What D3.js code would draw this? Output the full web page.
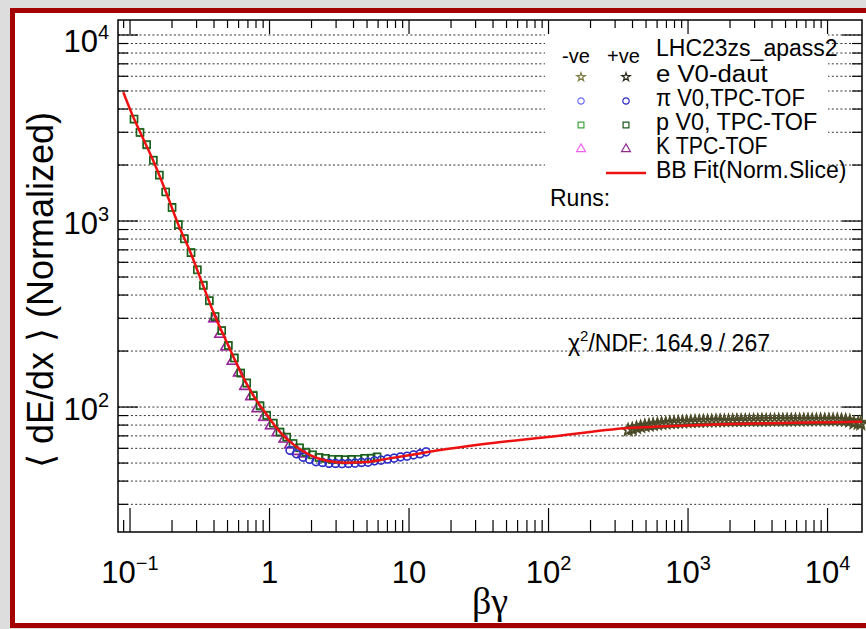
<!DOCTYPE html>
<html>
<head>
<meta charset="utf-8">
<script src="https://cdn.jsdelivr.net/npm/d3@7"></script>
<style>
  html, body { margin: 0; padding: 0; background: #dddddd; }
  svg { display: block; font-family: "Liberation Sans", Arial, sans-serif; }
</style>
</head>
<body>
<svg id="chart"></svg>
<script>
// ---- data ----
// BB fit curve (betagamma, normalized dE/dx)
const fitBG = [0.0895, 0.107, 0.118, 0.146, 0.181, 0.221, 0.274, 0.333, 0.406, 0.505, 0.625, 0.762, 0.959, 1.19, 1.47, 1.95, 2.62, 3.47, 4.84, 6.73, 10.2, 16.7, 32.3, 99, 371, 1219, 17660];
const fitVal = [4925, 3533, 3010, 2128, 1432, 964, 665, 453, 309, 215, 152, 116, 90.6, 73.4, 63.2, 55.2, 51.3, 50.2, 50.6, 52.5, 55.2, 58.7, 62.9, 69.0, 77.1, 80.0, 83.4];

// protons (squares)
const pBG = [0.1068, 0.1179, 0.1317, 0.1469, 0.1622, 0.1803, 0.2001, 0.2219, 0.2451, 0.2737, 0.3036, 0.3353, 0.3702, 0.4067, 0.4544, 0.5067, 0.5594, 0.6217, 0.6866, 0.7653, 0.8549, 0.9548, 1.065, 1.189, 1.328, 1.474, 1.641, 1.827, 2.033, 2.263, 2.520, 2.805, 3.123, 3.476, 3.870, 4.309, 4.797, 5.340, 5.896];
const pNeg = [3523, 2999, 2563, 2128, 1761, 1437, 1179, 960, 800, 679, 545, 453, 372, 308, 257, 215, 183, 153, 134, 116, 101, 90.6, 81.7, 73.7, 68.7, 64.0, 60.2, 57.3, 55.2, 53.8, 52.9, 52.5, 52.2, 52.2, 52.2, 52.5, 52.9, 53.2, 53.8];
const pPos = [3540, 2990, 2580, 2120, 1770, 1430, 1185, 955, 805, 675, 548, 450, 374, 306, 258, 214, 184, 152, 135, 115, 102, 90.0, 82.0, 73.2, 69.0, 63.6, 60.5, 57.0, 55.5, 53.5, 53.1, 52.3, 52.4, 52.0, 52.4, 52.3, 53.1, 53.0, 54.0];

// pions (circles)
const piBG = [1.403, 1.562, 1.738, 1.935, 2.154, 2.399, 2.670, 2.972, 3.309, 3.684, 4.101, 4.565, 5.082, 5.658, 6.298, 7.012, 7.806, 8.689, 9.675, 10.77, 11.99, 13.24];
const piNeg = [58.7, 55.9, 53.9, 52.2, 51.0, 50.3, 50.0, 49.7, 49.7, 49.7, 50.0, 50.3, 50.6, 51.3, 51.9, 52.5, 53.2, 53.9, 54.5, 55.2, 56.2, 57.3];
const piPos = [58.4, 56.1, 53.7, 52.4, 50.8, 50.4, 49.8, 49.8, 49.6, 49.8, 49.9, 50.4, 50.5, 51.4, 51.8, 52.6, 53.1, 54.0, 54.4, 55.4, 56.0, 57.5];

// kaons (triangles)
const kBG = [0.4002, 0.4419, 0.4878, 0.5413, 0.6016, 0.6674, 0.7369, 0.8178, 0.9134, 1.020, 1.137, 1.277, 1.403, 1.574, 1.738];
const kNeg = [297, 247, 210, 177, 152, 130, 113.6, 98.4, 88.0, 79.7, 72.8, 67.6, 62.5, 58.0, 55.9];
const kPos = [299, 246, 211, 176, 153, 129, 114.0, 98.0, 88.3, 79.4, 73.0, 67.3, 62.8, 57.7, 56.1];

// electrons (stars)
const eBG = [372, 398, 427, 457, 490, 525, 562, 603, 646, 692, 741, 794, 851, 912, 977, 1047, 1122, 1202, 1288, 1380, 1479, 1585, 1698, 1820, 1950, 2089, 2239, 2399, 2570, 2754, 2951, 3162, 3388, 3631, 3890, 4169, 4467, 4786, 5129, 5495, 5888, 6310, 6761, 7244, 7762, 8318, 8913, 9550, 10233, 10965, 11749, 12589, 13490, 14454, 15488, 16596, 17300];
const eNeg = [75.0, 76.4, 77.2, 78.6, 79.1, 80.0, 80.3, 81.1, 81.4, 82.0, 82.2, 82.7, 82.8, 83.2, 83.2, 83.6, 83.6, 83.9, 83.9, 84.2, 84.1, 84.4, 84.3, 84.5, 84.4, 84.7, 84.5, 84.8, 84.6, 84.9, 84.7, 85.0, 84.8, 85.1, 84.9, 85.1, 85.0, 85.2, 85.0, 85.3, 85.1, 85.3, 85.1, 85.4, 85.2, 85.4, 85.2, 85.4, 85.3, 85.5, 85.2, 85.4, 85.0, 84.5, 82.6, 81.4, 82.8];
const ePos = [75.4, 76.0, 77.6, 78.3, 79.4, 79.7, 80.6, 80.9, 81.7, 81.8, 82.5, 82.5, 83.0, 83.0, 83.5, 83.4, 83.8, 83.7, 84.1, 84.0, 84.3, 84.2, 84.5, 84.4, 84.6, 84.5, 84.8, 84.6, 84.9, 84.7, 85.0, 84.8, 85.1, 84.9, 85.1, 85.0, 85.2, 85.0, 85.3, 85.1, 85.3, 85.1, 85.4, 85.2, 85.4, 85.2, 85.5, 85.3, 85.4, 85.2, 85.5, 85.1, 84.8, 83.8, 81.9, 82.2, 80.9];

// legend / labels
const legendTitle = "LHC23zs_apass2";
const legendLabels = ["e V0-daut", "\u03c0 V0,TPC-TOF", "p V0, TPC-TOF", "K TPC-TOF"];
const fitLabel = "BB Fit(Norm.Slice)";
const chi2Text = ["\u03c7", "2", "/NDF: 164.9 / 267"];
const xTickLabels = [["10", "\u22121"], ["1", ""], ["10", ""], ["10", "2"], ["10", "3"], ["10", "4"]];
const xTickValues = [0.1, 1, 10, 100, 1000, 10000];
const yTickValues = [100, 1000, 10000];
const yTickLabels = [["10", "2"], ["10", "3"], ["10", "4"]];

// ---- layout ----
const width = 866;
const height = 629;
const plot = { left: 118, right: 862, top: 20, bottom: 532 };

const svg = d3.select("#chart").attr("width", width).attr("height", height);

// outer canvas: grey surround, dark red border, white pad
svg.append("rect").attr("x", 0).attr("y", 0).attr("width", width).attr("height", height).attr("fill", "#dddddd");
svg.append("rect")
  .attr("x", 12.5).attr("y", 10.5).attr("width", 900).attr("height", 615)
  .attr("fill", "#ffffff").attr("stroke", "#a40000").attr("stroke-width", 5);

const x = d3.scaleLog().domain([0.082, 17660]).range([plot.left, plot.right]);
const y = d3.scaleLog().domain([21.3, 12040]).range([plot.bottom, plot.top]);

const isMajor = (t) => Math.abs(Math.log10(t) - Math.round(Math.log10(t))) < 1e-6;

// horizontal dotted grid at every y tick
const yTicks = y.ticks();
svg.append("g")
  .selectAll("line")
  .data(yTicks)
  .join("line")
  .attr("x1", plot.left).attr("x2", plot.right)
  .attr("y1", (d) => y(d)).attr("y2", (d) => y(d))
  .attr("stroke", "#333").attr("stroke-width", 1)
  .attr("stroke-dasharray", "2,2.3");

// legend box (white, hides grid)
svg.append("rect")
  .attr("x", 545).attr("y", 27).attr("width", 283).attr("height", 188)
  .attr("fill", "#ffffff");

// ticks
const ticks = svg.append("g").attr("stroke", "#000").attr("stroke-width", 1.2);
const xTicks = x.ticks();
ticks.selectAll(".xb").data(xTicks).join("line").attr("class", "xb")
  .attr("x1", (d) => x(d)).attr("x2", (d) => x(d))
  .attr("y1", plot.bottom).attr("y2", (d) => plot.bottom - (isMajor(d) ? 24 : 12));
ticks.selectAll(".xt").data(xTicks).join("line").attr("class", "xt")
  .attr("x1", (d) => x(d)).attr("x2", (d) => x(d))
  .attr("y1", plot.top).attr("y2", (d) => plot.top + (isMajor(d) ? 14 : 8));
ticks.selectAll(".yl").data(yTicks).join("line").attr("class", "yl")
  .attr("y1", (d) => y(d)).attr("y2", (d) => y(d))
  .attr("x1", plot.left).attr("x2", (d) => plot.left + (isMajor(d) ? 20 : 10));
ticks.selectAll(".yr").data(yTicks).join("line").attr("class", "yr")
  .attr("y1", (d) => y(d)).attr("y2", (d) => y(d))
  .attr("x1", plot.right).attr("x2", (d) => plot.right - (isMajor(d) ? 20 : 10));

// frame
svg.append("rect")
  .attr("x", plot.left).attr("y", plot.top)
  .attr("width", plot.right - plot.left).attr("height", plot.bottom - plot.top)
  .attr("fill", "none").attr("stroke", "#000").attr("stroke-width", 1.5);

// tick labels
const xl = svg.append("g").attr("font-size", 31).attr("text-anchor", "middle").attr("fill", "#000");
xTickValues.forEach((v, i) => {
  const t = xl.append("text").attr("x", x(v)).attr("y", 583);
  t.append("tspan").text(xTickLabels[i][0]);
  if (xTickLabels[i][1]) {
    t.append("tspan").attr("font-size", 20).attr("dy", -13).text(xTickLabels[i][1]);
  }
});
const yl = svg.append("g").attr("font-size", 31).attr("text-anchor", "end").attr("fill", "#000");
yTickValues.forEach((v, i) => {
  const t = yl.append("text").attr("x", 109).attr("y", Math.max(y(v) + 13, 52));
  t.append("tspan").text(yTickLabels[i][0]);
  t.append("tspan").attr("font-size", 20).attr("dy", -13).text(yTickLabels[i][1]);
});

// axis titles
svg.append("text")
  .attr("x", 490).attr("y", 614)
  .attr("text-anchor", "middle")
  .attr("font-family", "'Liberation Serif', 'DejaVu Serif', serif")
  .attr("font-size", 38)
  .text("\u03b2\u03b3");
svg.append("text")
  .attr("transform", "translate(53,290) rotate(-90)")
  .attr("text-anchor", "middle")
  .attr("font-size", 36)
  .text("\u27e8 dE/dx \u27e9 (Normalized)");

// ---- data markers ----
const series = [
  { bg: kBG, neg: kNeg, pos: kPos, sym: d3.symbolTriangle, size: 48, cNeg: "#f060f0", cPos: "#8e2a8e" },
  { bg: pBG, neg: pNeg, pos: pPos, sym: d3.symbolSquare, size: 50, cNeg: "#3fa33f", cPos: "#1d5a1d" },
  { bg: piBG, neg: piNeg, pos: piPos, sym: d3.symbolCircle, size: 48, cNeg: "#7070ff", cPos: "#2c2cc0" },
  { bg: eBG, neg: eNeg, pos: ePos, sym: d3.symbolStar, size: 42, cNeg: "#7d7d45", cPos: "#4a4a2a" }
];

const marks = svg.append("g").attr("fill", "none").attr("stroke-width", 1.4);
series.forEach((s) => {
  ["neg", "pos"].forEach((charge) => {
    const col = charge === "neg" ? s.cNeg : s.cPos;
    marks.append("g")
      .selectAll("path")
      .data(s.bg.map((b, i) => [b, s[charge][i]]))
      .join("path")
      .attr("transform", (d) => `translate(${x(d[0])},${y(d[1])})`)
      .attr("d", d3.symbol().type(s.sym).size(s.size))
      .attr("stroke", col);
  });
});

// BB fit line
const fitLine = d3.line()
  .x((d) => x(d[0]))
  .y((d) => y(d[1]))
  .curve(d3.curveMonotoneX);
svg.append("path")
  .datum(fitBG.map((b, i) => [b, fitVal[i]]))
  .attr("d", fitLine)
  .attr("fill", "none")
  .attr("stroke", "#ee1111")
  .attr("stroke-width", 2.5);

// ---- legend ----
const lg = svg.append("g").attr("fill", "#000");
lg.append("text").attr("x", 656).attr("y", 56).attr("font-size", 23).text(legendTitle);
lg.append("text").attr("x", 562).attr("y", 63).attr("font-size", 20).text("-ve");
lg.append("text").attr("x", 607).attr("y", 63).attr("font-size", 20).text("+ve");

const legendMarks = [
  { sym: d3.symbolStar, size: 22, cNeg: "#7d7d45", cPos: "#2a2a1a" },
  { sym: d3.symbolCircle, size: 32, cNeg: "#7070ff", cPos: "#2c2cc0" },
  { sym: d3.symbolSquare, size: 34, cNeg: "#3fa33f", cPos: "#1d5a1d" },
  { sym: d3.symbolTriangle, size: 34, cNeg: "#f060f0", cPos: "#8e2a8e" }
];
legendLabels.forEach((label, i) => {
  const cy = 77 + i * 24;
  const m = legendMarks[i];
  lg.append("path")
    .attr("transform", `translate(581,${cy})`)
    .attr("d", d3.symbol().type(m.sym).size(m.size))
    .attr("fill", "none").attr("stroke", m.cNeg).attr("stroke-width", 1.2);
  lg.append("path")
    .attr("transform", `translate(626,${cy})`)
    .attr("d", d3.symbol().type(m.sym).size(m.size))
    .attr("fill", "none").attr("stroke", m.cPos).attr("stroke-width", 1.2);
  lg.append("text").attr("x", 656).attr("y", cy + 5).attr("font-size", 23)
    .attr("textLength", label.length * 12.4).attr("lengthAdjust", "spacingAndGlyphs")
    .text(label);
});
lg.append("line")
  .attr("x1", 606).attr("x2", 646).attr("y1", 173).attr("y2", 173)
  .attr("stroke", "#ee1111").attr("stroke-width", 2.5);
lg.append("text").attr("x", 656).attr("y", 178).attr("font-size", 23).text(fitLabel);
lg.append("text").attr("x", 550).attr("y", 206).attr("font-size", 23).text("Runs:");

// chi2 annotation
const chi = svg.append("text").attr("x", 568).attr("y", 351).attr("font-size", 23);
chi.append("tspan").text(chi2Text[0]);
chi.append("tspan").attr("font-size", 15).attr("dy", -10).text(chi2Text[1]);
chi.append("tspan").attr("dy", 10).text(chi2Text[2]);
</script>
</body>
</html>
